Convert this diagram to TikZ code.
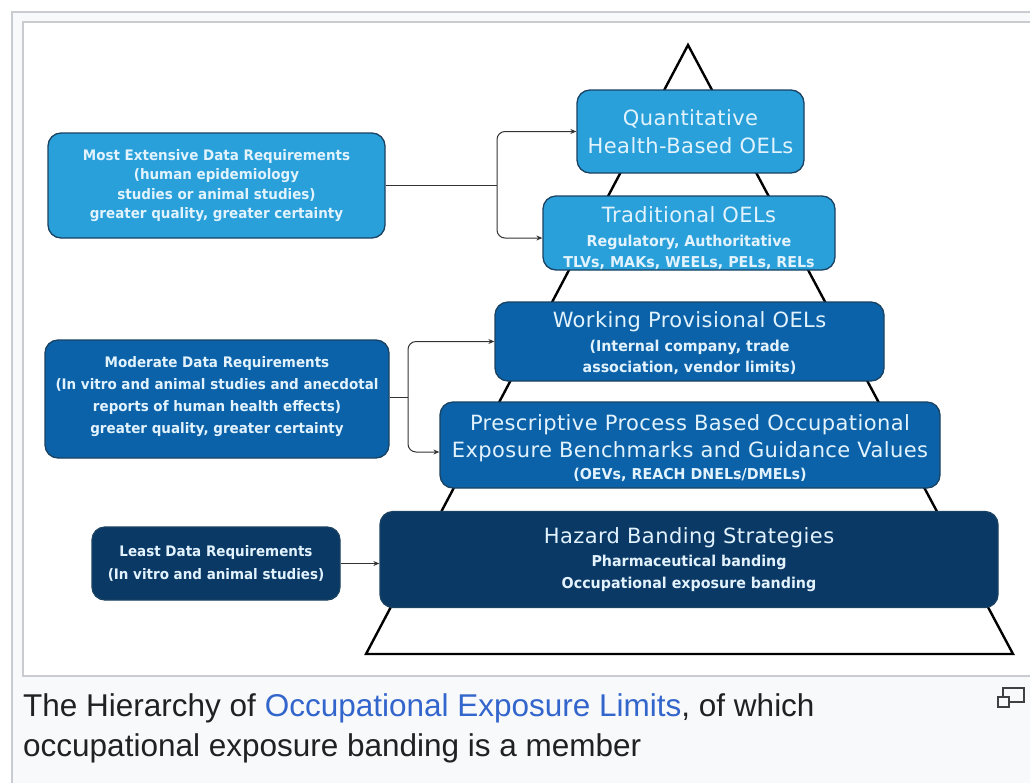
\documentclass[tikz,border=0pt]{standalone}
\usepackage{fontspec}
\setmainfont{DejaVu Sans}
\newfontfamily\capfont{Liberation Sans}
\newfontfamily\ttlfont[LetterSpace=2]{DejaVu Sans}
\newfontfamily\subfont[FakeStretch=0.95]{DejaVu Sans}
\newfontfamily\leftfont[FakeStretch=0.93]{DejaVu Sans}
\usetikzlibrary{arrows.meta}
\definecolor{lightblue}{HTML}{29A0DA}
\definecolor{midblue}{HTML}{0B62A8}
\definecolor{navy}{HTML}{0B3966}
\definecolor{boxborder}{HTML}{1A4262}
\definecolor{txt}{HTML}{E2F3FD}
\definecolor{framegray}{HTML}{C8CCD1}
\definecolor{capbg}{HTML}{F8F9FA}
\definecolor{captext}{HTML}{202122}
\definecolor{linkblue}{HTML}{3366CC}
\newcommand{\ttl}{\ttlfont\mdseries\fontsize{21}{28}\selectfont}
\newcommand{\sbt}{\subfont\bfseries\fontsize{15}{21}\selectfont}
\newcommand{\lft}{\leftfont\bfseries\fontsize{14.5}{20}\selectfont}
\begin{document}
\begin{tikzpicture}[x=1pt,y=-1pt,
  pbox/.style={draw=boxborder, line width=1.3, rounded corners=13, align=center,
    text=txt, inner sep=0pt},
  light/.style={pbox, fill=lightblue},
  mid/.style={pbox, fill=midblue},
  dark/.style={pbox, fill=navy},
  conn/.style={draw=black!80, line width=1, rounded corners=8,
    -{Stealth[length=6pt,width=5pt]}},
  plain/.style={draw=black!80, line width=1}]
\useasboundingbox (0,0) rectangle (1030,782);
\fill[white] (0,0) rectangle (1030,782);
% frames
\draw[framegray, fill=capbg, line width=1.5] (12,12) rectangle (1045,795);
\draw[framegray, fill=white, line width=1.5] (23,22) rectangle (1045,676);
% pyramid
\draw[line width=2.4, line join=miter] (688,45) -- (366,654) -- (1013,654) -- cycle;
% right-hand boxes
\node[light, font=\ttl, minimum width=227, minimum height=83] (quant) at (690.5,131.5)
  {Quantitative\\[0pt] Health-Based OELs};
\node[light, font=\sbt, minimum width=292, minimum height=74] (trad) at (689,233)
  {{\ttl\rule{0pt}{26pt}Traditional OELs}\\[3pt] Regulatory, Authoritative\\[0pt] TLVs, MAKs, WEELs, PELs, RELs};
\node[mid, font=\sbt, minimum width=389, minimum height=79] (work) at (689.5,341.5)
  {{\ttl\rule{0pt}{19pt}Working Provisional OELs}\\[3pt] (Internal company, trade\\[0pt] association, vendor limits)};
\node[mid, font=\sbt, minimum width=500, minimum height=86] (presc) at (690,445)
  {{\ttl\rule{0pt}{23pt}Prescriptive Process Based Occupational}\\[6pt] {\ttl Exposure Benchmarks and Guidance Values}\\[1pt] (OEVs, REACH DNELs/DMELs)};
\node[dark, font=\sbt, minimum width=618, minimum height=96] (hazard) at (689,559.5)
  {{\ttl Hazard Banding Strategies}\\[2pt] Pharmaceutical banding\\[1pt] Occupational exposure banding};
% left-hand boxes
\node[light, font=\lft, minimum width=337, minimum height=105] (most) at (216.5,185.5)
  {Most Extensive Data Requirements\\[-0.5pt] (human epidemiology\\[-0.5pt] studies or animal studies)\\[-0.5pt] greater quality, greater certainty};
\node[mid, font=\lft, minimum width=344, minimum height=118] (moder) at (217,399)
  {Moderate Data Requirements\\[2pt] (In vitro and animal studies and anecdotal\\[2pt] reports of human health effects)\\[2pt] greater quality, greater certainty\rule[-9pt]{0pt}{0pt}};
\node[dark, font=\lft, minimum width=248, minimum height=73] (least) at (216,563.5)
  {Least Data Requirements\\[3pt] (In vitro and animal studies)};
% connectors
\coordinate (b1) at (497,185.5);
\draw[plain] (most.east) -- (b1);
\draw[conn] (b1) |- (quant.west);
\draw[conn] (b1) |- ([yshift=-5pt]trad.west);
\coordinate (b2) at (408,397);
\draw[plain] (moder.east |- b2) -- (b2);
\draw[conn] (b2) |- (work.west);
\draw[conn] (b2) |- ([yshift=-7pt]presc.west);
\draw[conn] (least.east) -- (least.east -| hazard.west);
% caption
\node[anchor=base west, inner sep=0pt, text=captext, font=\capfont\fontsize{31.5}{40}\selectfont] (cap1) at (23,716)
  {The Hierarchy of \textcolor{linkblue}{Occupational Exposure Limits}, of which};
\node[anchor=base west, inner sep=0pt, text=captext, font=\capfont\fontsize{31.5}{40}\selectfont] (cap2) at (23,756)
  {occupational exposure banding is a member};
% enlarge icon
\draw[black!75, line width=1.3] (1003,688) rectangle (1024,702);
\draw[black!75, line width=1.3, fill=capbg] (998,697) rectangle (1009,707);
\end{tikzpicture}
\end{document}
